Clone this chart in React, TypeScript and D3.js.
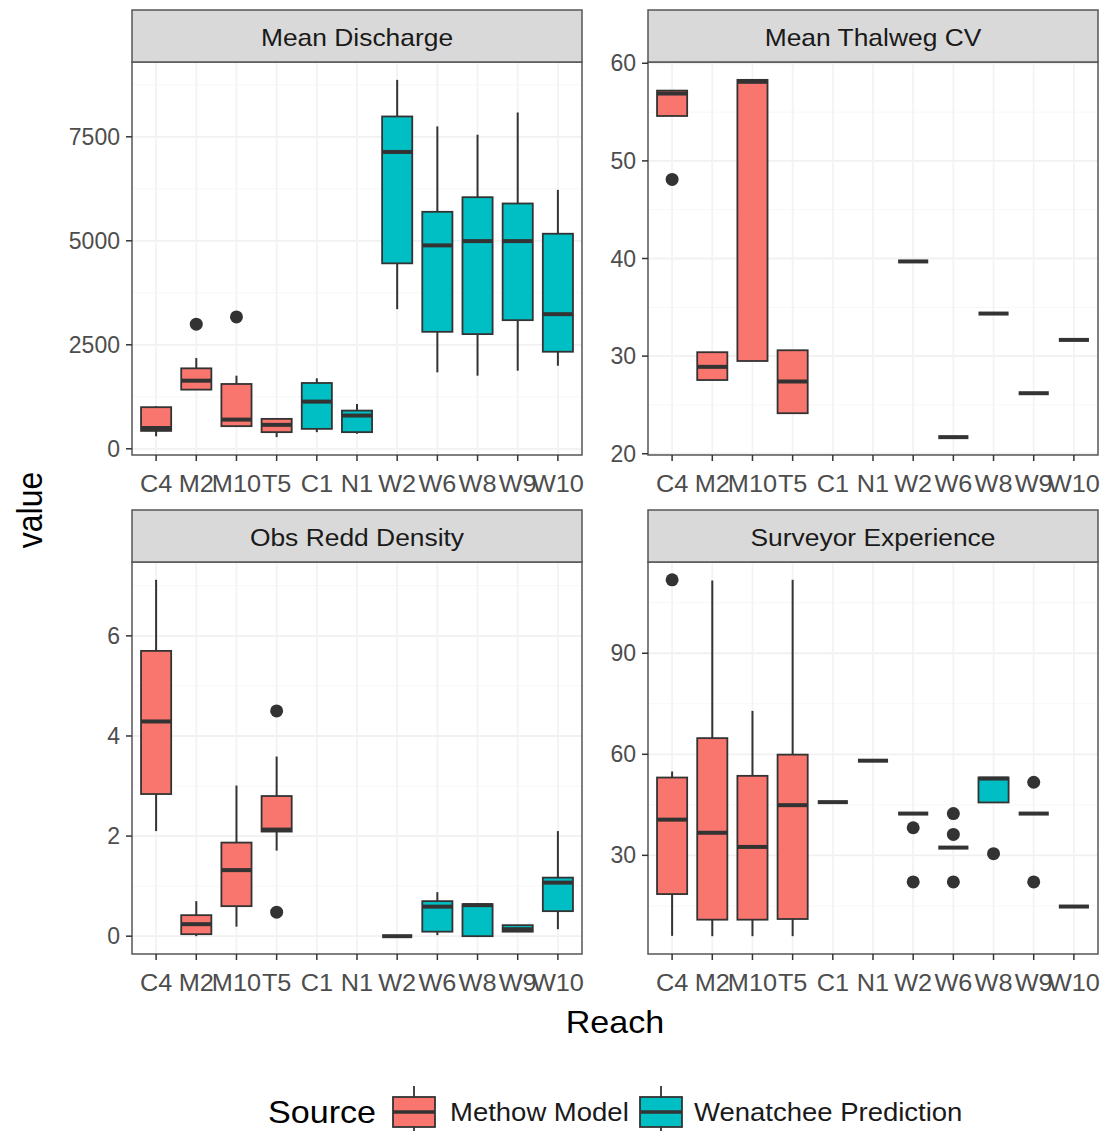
import React from "react";
import * as d3 from "d3";

// ---------------- DATA ----------------
const reaches = ["C4", "M2", "M10", "T5", "C1", "N1", "W2", "W6", "W8", "W9", "W10"];
const reachSource = [
  "Methow Model", "Methow Model", "Methow Model", "Methow Model",
  "Wenatchee Prediction", "Wenatchee Prediction", "Wenatchee Prediction",
  "Wenatchee Prediction", "Wenatchee Prediction", "Wenatchee Prediction", "Wenatchee Prediction",
];
const sourceNames = ["Methow Model", "Wenatchee Prediction"];
const sourceColors = ["#F8766D", "#00BFC4"];
const panelTitles = ["Mean Discharge", "Mean Thalweg CV", "Obs Redd Density", "Surveyor Experience"];

// Mean Discharge
const dischargeLower = [300, 1420, 544, 280, 400, 360, 3356, 1838, 1757, 1877, 1997];
const dischargeQ1 = [430, 1422, 544, 400, 479, 400, 4458, 2812, 2757, 3092, 2333];
const dischargeMedian = [500, 1637, 702, 575, 1134, 799, 7136, 4890, 4993, 4993, 3236];
const dischargeQ3 = [1000, 1934, 1558, 719, 1582, 918, 7989, 5697, 6048, 5897, 5170];
const dischargeUpper = [1020, 2181, 1757, 730, 1694, 1079, 8869, 7750, 7551, 8085, 6224];
const dischargeOutliers = [[], [2996], [3171], [], [], [], [], [], [], [], []];
const dischargeTicks = [0, 2500, 5000, 7500];

// Mean Thalweg CV
const thalwegLower = [54.6, 27.55, 29.5, 24.15, null, null, 39.7, 21.7, 34.36, 26.2, 31.66];
const thalwegQ1 = [54.6, 27.55, 29.5, 24.15, null, null, 39.7, 21.7, 34.36, 26.2, 31.66];
const thalwegMedian = [56.9, 28.9, 58.1, 27.4, null, null, 39.7, 21.7, 34.36, 26.2, 31.66];
const thalwegQ3 = [57.2, 30.4, 58.3, 30.6, null, null, 39.7, 21.7, 34.36, 26.2, 31.66];
const thalwegUpper = [57.2, 30.4, 58.3, 30.6, null, null, 39.7, 21.7, 34.36, 26.2, 31.66];
const thalwegOutliers = [[48.1], [], [], [], [], [], [], [], [], [], []];
const thalwegTicks = [20, 30, 40, 50, 60];

// Obs Redd Density
const reddLower = [2.1, 0.0, 0.19, 1.71, null, null, 0, 0.02, 0, 0.09, 0.14];
const reddQ1 = [2.84, 0.04, 0.6, 2.09, null, null, 0, 0.09, 0, 0.09, 0.5];
const reddMedian = [4.29, 0.24, 1.32, 2.13, null, null, 0, 0.59, 0.62, 0.14, 1.07];
const reddQ3 = [5.7, 0.42, 1.87, 2.8, null, null, 0, 0.7, 0.64, 0.22, 1.17];
const reddUpper = [7.12, 0.7, 3.01, 3.59, null, null, 0, 0.88, 0.64, 0.22, 2.1];
const reddOutliers = [[], [], [], [4.5, 0.48], [], [], [], [], [], [], []];
const reddTicks = [0, 2, 4, 6];

// Surveyor Experience
const surveyLower = [6.1, 6.0, 6.0, 6.0, 45.8, 58.1, 42.4, 32.3, 45.7, 42.4, 14.8];
const surveyQ1 = [18.5, 10.9, 10.9, 11.1, 45.8, 58.1, 42.4, 32.3, 45.7, 42.4, 14.8];
const surveyMedian = [40.6, 36.7, 32.5, 44.9, 45.8, 58.1, 42.4, 32.3, 52.8, 42.4, 14.8];
const surveyQ3 = [53.1, 64.8, 53.6, 59.9, 45.8, 58.1, 42.4, 32.3, 53.1, 42.4, 14.8];
const surveyUpper = [54.9, 111.6, 72.9, 111.8, 45.8, 58.1, 42.4, 32.3, 53.1, 42.4, 14.8];
const surveyOutliers = [[111.8], [], [], [], [], [], [38.2, 22.1], [42.4, 36.2, 22.1], [30.5], [51.7, 22.1], []];
const surveyTicks = [30, 60, 90];

// ---------------- HELPERS ----------------
type Stat = { reach: string; source: string; lower: number; q1: number; median: number; q3: number; upper: number; outliers: number[] };

function buildStats(lower: (number | null)[], q1: (number | null)[], med: (number | null)[], q3: (number | null)[], upper: (number | null)[], outl: number[][]): Stat[] {
  const out: Stat[] = [];
  reaches.forEach((r, i) => {
    if (med[i] == null) return;
    out.push({ reach: r, source: reachSource[i], lower: lower[i] as number, q1: q1[i] as number, median: med[i] as number, q3: q3[i] as number, upper: upper[i] as number, outliers: outl[i] });
  });
  return out;
}

const panelsData = [
  { title: panelTitles[0], stats: buildStats(dischargeLower, dischargeQ1, dischargeMedian, dischargeQ3, dischargeUpper, dischargeOutliers), ticks: dischargeTicks },
  { title: panelTitles[1], stats: buildStats(thalwegLower, thalwegQ1, thalwegMedian, thalwegQ3, thalwegUpper, thalwegOutliers), ticks: thalwegTicks },
  { title: panelTitles[2], stats: buildStats(reddLower, reddQ1, reddMedian, reddQ3, reddUpper, reddOutliers), ticks: reddTicks },
  { title: panelTitles[3], stats: buildStats(surveyLower, surveyQ1, surveyMedian, surveyQ3, surveyUpper, surveyOutliers), ticks: surveyTicks },
];

const color = d3.scaleOrdinal<string, string>().domain(sourceNames).range(sourceColors);

// ---------------- LAYOUT ----------------
const W = 1105, H = 1131;
const colLeft = [132, 648];
const panelW = 450;
const stripTop = [10, 510];
const stripH = 52;
const plotBottom = [455, 954];
const FONT = "'Liberation Sans', Arial, Helvetica, sans-serif";
const INK = "#333333";
const SX = 1.1;

function T({ x, y, size, anchor = "start", fill = "#000", rotate = 0, sx = SX, children }: any) {
  return (
    <text
      transform={`translate(${x},${y}) scale(${sx},1)${rotate ? ` rotate(${rotate})` : ""}`}
      textAnchor={anchor}
      fontSize={size}
      fill={fill}
      fontFamily={FONT}
    >
      {children}
    </text>
  );
}

function Panel({ idx }: { idx: number }) {
  const p = panelsData[idx];
  const col = idx % 2, row = Math.floor(idx / 2);
  const x0 = colLeft[col], x1 = x0 + panelW;
  const sTop = stripTop[row];
  const yTop = sTop + stripH, yBot = plotBottom[row];

  const x = d3.scalePoint<string>().domain(reaches).range([x0, x1]).padding(0.6);
  const allVals: number[] = [];
  p.stats.forEach((s) => { allVals.push(s.lower, s.upper, ...s.outliers); });
  const [mn, mx] = d3.extent(allVals) as [number, number];
  const pad = (mx - mn) * 0.05;
  const y = d3.scaleLinear().domain([mn - pad, mx + pad]).range([yBot, yTop]);
  const [d0, d1] = y.domain();
  const majors = p.ticks.filter((t) => t >= d0 && t <= d1);
  const step = p.ticks[1] - p.ticks[0];
  const minors: number[] = [];
  for (let t = p.ticks[0] - step / 2; t <= d1; t += step) if (t >= d0) minors.push(t);
  const bw = x.step() * 0.75;

  return (
    <g>
      <rect x={x0} y={yTop} width={panelW} height={yBot - yTop} fill="#ffffff" />
      {minors.map((t) => (
        <line key={"mi" + t} x1={x0} x2={x1} y1={y(t)} y2={y(t)} stroke="#f7f7f7" strokeWidth={1} />
      ))}
      {majors.map((t) => (
        <line key={"ma" + t} x1={x0} x2={x1} y1={y(t)} y2={y(t)} stroke="#f1f1f1" strokeWidth={1.8} />
      ))}
      {reaches.map((r) => (
        <line key={"vg" + r} x1={x(r)} x2={x(r)} y1={yTop} y2={yBot} stroke="#f3f3f3" strokeWidth={1.8} />
      ))}
      {p.stats.map((s) => {
        const cx = x(s.reach) as number;
        return (
          <g key={s.reach}>
            {s.outliers.map((o, k) => (
              <circle key={k} cx={cx} cy={y(o)} r={6.5} fill={INK} />
            ))}
            <line x1={cx} x2={cx} y1={y(s.upper)} y2={y(s.q3)} stroke={INK} strokeWidth={2} />
            <line x1={cx} x2={cx} y1={y(s.q1)} y2={y(s.lower)} stroke={INK} strokeWidth={2} />
            <rect x={cx - bw / 2} y={y(s.q3)} width={bw} height={Math.max(0, y(s.q1) - y(s.q3))} fill={color(s.source)} stroke={INK} strokeWidth={1.8} />
            <line x1={cx - bw / 2} x2={cx + bw / 2} y1={y(s.median)} y2={y(s.median)} stroke={INK} strokeWidth={4} />
          </g>
        );
      })}
      <rect x={x0} y={yTop} width={panelW} height={yBot - yTop} fill="none" stroke="#555555" strokeWidth={1.5} />
      <rect x={x0} y={sTop} width={panelW} height={stripH} fill="#d9d9d9" stroke="#555555" strokeWidth={1.5} />
      <T x={(x0 + x1) / 2} y={sTop + stripH / 2 + 10} anchor="middle" size={24} fill="#1a1a1a">{p.title}</T>
      {majors.map((t) => (
        <g key={"yt" + t}>
          <line x1={x0 - 6} x2={x0} y1={y(t)} y2={y(t)} stroke={INK} strokeWidth={1.5} />
          <T x={x0 - 12} y={y(t) + 8} anchor="end" size={23} fill="#4d4d4d" sx={1}>{d3.format("d")(t)}</T>
        </g>
      ))}
      {reaches.map((r) => (
        <g key={"xt" + r}>
          <line x1={x(r)} x2={x(r)} y1={yBot} y2={yBot + 6} stroke={INK} strokeWidth={1.5} />
          <T x={x(r)} y={yBot + 37} anchor="middle" size={23} fill="#4d4d4d">{r}</T>
        </g>
      ))}
    </g>
  );
}

function LegendKey({ x, fill }: { x: number; fill: string }) {
  const w = 42, top = 1097, bot = 1127;
  return (
    <g>
      <line x1={x + w / 2} x2={x + w / 2} y1={1086} y2={1140} stroke={INK} strokeWidth={1.8} />
      <rect x={x} y={top} width={w} height={bot - top} fill={fill} stroke={INK} strokeWidth={1.8} />
      <line x1={x} x2={x + w} y1={(top + bot) / 2} y2={(top + bot) / 2} stroke={INK} strokeWidth={3.5} />
    </g>
  );
}

export default function App() {
  return (
    <svg width={W} height={H} style={{ position: "absolute", left: 0, top: 0, background: "#ffffff" }}>
      <rect x={0} y={0} width={W} height={H} fill="#ffffff" />
      {panelsData.map((_, i) => <Panel key={i} idx={i} />)}
      <T x={42} y={510} rotate={-90} anchor="middle" size={32}>value</T>
      <T x={615} y={1033} anchor="middle" size={31}>Reach</T>
      <T x={268} y={1123} size={31}>Source</T>
      <LegendKey x={393} fill={color(sourceNames[0])} />
      <T x={450} y={1121} size={25} fill="#1a1a1a">{sourceNames[0]}</T>
      <LegendKey x={640} fill={color(sourceNames[1])} />
      <T x={694} y={1121} size={25} fill="#1a1a1a">{sourceNames[1]}</T>
    </svg>
  );
}
